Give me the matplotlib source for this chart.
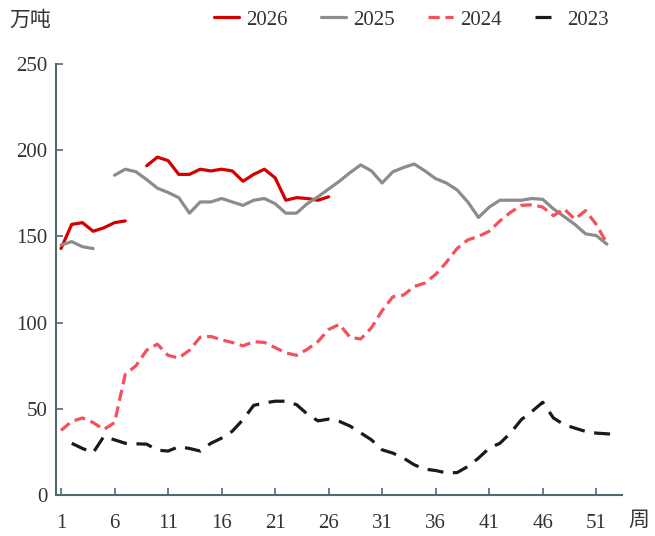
import numpy as np
import matplotlib
matplotlib.use("Agg")
from matplotlib import pyplot as plt

nan = np.nan

weeks = list(range(1, 54))

# 2026: two pieces, weeks 1-7 and 9-26
y2026 = [143, 157, 158, 153, 155, 158, 159, nan,
         191, 196, 194, 186, 186, 189, 188, 189, 188, 182, 186, 189, 184,
         171, 172.5, 172, 171, 173] + [nan] * 27

y2025 = [145, 147, 144, 143, nan,
         185.5, 189, 187.5, 183, 178, 175.5, 172.5, 163.5, 170, 170,
         172, 170, 168, 171, 172, 169, 163.5, 163.5, 169, 173,
         177.5, 182, 187, 191.5, 188, 181, 187.5, 190, 192, 188,
         183.5, 181, 177, 170, 161, 167, 171, 171, 171, 172,
         171.5, 166, 161.5, 157, 151.5, 150.5, 145.5, nan]

y2024 = [37.5, 42.7, 44.7, 42, 38, 42, 70, 75, 84, 87.5,
         81, 79.5, 84, 91.5, 92, 90, 88.5, 86.5, 89, 88.5,
         85.5, 82.5, 81, 84.5, 89, 96, 99, 91.5, 90.5, 97,
         107, 115, 116, 121, 123, 128, 135, 143, 148, 150,
         153, 159, 164, 168, 168.4, 167, 162, 166, 160, 165,
         157, 146, nan]

y2023 = [nan, 30, 27, 24.5, 34, 32, 30, 29.7, 29.5, 26,
         25.5, 28, 27, 25.5, 30, 33, 37, 43.7, 52, 53.4,
         54.4, 54.4, 52.4, 47, 43, 44, 42.7, 40, 36, 32,
         26.2, 24.3, 21.4, 17.5, 15, 14.2, 12.8, 13, 16.5, 21.4,
         27.2, 30, 36, 43.7, 48.5, 53.8, 44.7, 40.8, 38.8, 36.9,
         35.9, 35.5, 35]

xticks = list(range(1, 52, 5))
yticks = [0, 50, 100, 150, 200, 250]

axis_color = "#4f6b6f"
serif = "Liberation Serif"
cjk = "Noto Sans CJK SC"

fig = plt.figure(figsize=(6.55, 5.36), dpi=100)
ax = fig.add_axes([0.0855, 0.0765, 0.864, 0.804])

lw = 2.3
ax.plot(weeks, y2026, color="#d40000", lw=lw, label="2026",
        solid_capstyle="round", solid_joinstyle="round")
ax.plot(weeks, y2025, color="#8c8c8c", lw=lw, label="2025",
        solid_capstyle="round", solid_joinstyle="round")
ax.plot(weeks, y2024, color="#f5505c", lw=lw, label="2024", dashes=(3.5, 1.8),
        dash_joinstyle="round")
ax.plot(weeks, y2023, color="#1a1a1a", lw=lw, label="2023", dashes=(5, 3),
        dash_joinstyle="round")

ax.set_xlim(0.53, 53.4)
ax.set_ylim(0, 250)
ax.set_xticks(xticks)
ax.set_yticks(yticks)

for side in ["top", "right"]:
    ax.spines[side].set_visible(False)
for side in ["left", "bottom"]:
    ax.spines[side].set_color(axis_color)
    ax.spines[side].set_linewidth(1.5)

ax.tick_params(axis="both", direction="in", length=5, width=1.2, color=axis_color,
               labelcolor="#333333", labelsize=15)
ax.tick_params(axis="x", pad=14)
ax.tick_params(axis="y", pad=6)
for lab in ax.get_xticklabels() + ax.get_yticklabels():
    lab.set_fontfamily(serif)

fig.legend(loc="center", bbox_to_anchor=(0.628, 0.963), ncol=4, frameon=False,
           prop={"family": serif, "size": 15}, handlelength=1.2,
           handletextpad=0.35, columnspacing=1.6, labelcolor="#333333")

fig.text(0.015, 0.963, "万吨", family=cjk, fontsize=15, color="#333333",
         ha="left", va="center")
fig.text(0.975, 0.03, "周", family=cjk, fontsize=15, color="#333333",
         ha="center", va="center")

fig.savefig("out.png", dpi=100)
